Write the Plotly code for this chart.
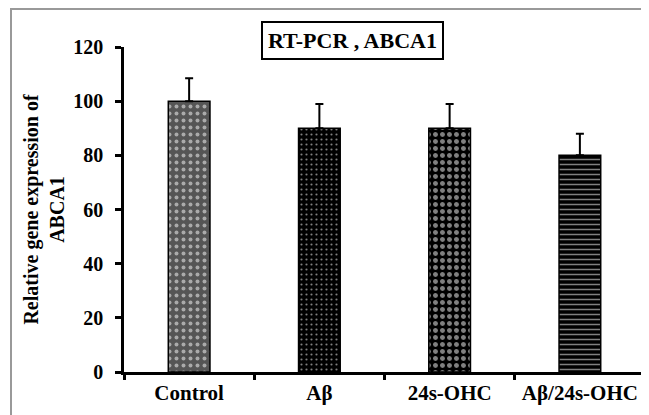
import plotly.graph_objects as go

categories = ["Control", "Aβ", "24s-OHC", "Aβ/24s-OHC"]
values = [100, 90, 90, 80]
errors = [8.5, 9, 9, 8]
y_ticks = [0, 20, 40, 60, 80, 100, 120]

patterns = [
    dict(shape=".", fgcolor="white", bgcolor="#555555", size=7, solidity=0.25),
    dict(shape=".", fgcolor="white", bgcolor="black", size=5, solidity=0.15),
    dict(shape=".", fgcolor="white", bgcolor="black", size=7, solidity=0.4),
    dict(shape="-", fgcolor="white", bgcolor="black", size=5, solidity=0.3),
]

# page body has an 8px default margin, so the figure is 8px smaller
W, H = 641, 407
L, R, T, B = 116, 4, 39, 43
pw = W - L - R
ph = H - T - B

fig = go.Figure()
for i, c in enumerate(categories):
    fig.add_trace(go.Bar(
        x=[c], y=[values[i]],
        marker=dict(color=patterns[i]["bgcolor"], pattern=patterns[i],
                    line=dict(color="black", width=1.5)),
        error_y=dict(type="data", symmetric=False, array=[errors[i]], arrayminus=[0],
                     color="black", thickness=2, width=4),
        showlegend=False,
    ))

font = "Liberation Serif, Times New Roman, serif"
fig.update_layout(
    width=W, height=H,
    margin=dict(l=L, r=R, t=T, b=B),
    paper_bgcolor="white", plot_bgcolor="white",
    bargap=0.68,
    font=dict(family=font, color="black", size=20),
    xaxis=dict(
        showline=True, linecolor="black", linewidth=2.5,
        ticks="outside", tickson="boundaries", ticklen=5, tickwidth=2.5, tickcolor="black",
        tickfont=dict(family=font, size=21, weight="bold"),
        range=[-0.5, 3.5],
    ),
    yaxis=dict(
        range=[0, 120], tickvals=y_ticks, showgrid=False, zeroline=False,
        showline=True, linecolor="black", linewidth=2.5,
        ticks="outside", ticklen=6, tickwidth=2.5, tickcolor="black",
        ticklabelstandoff=8,
        tickfont=dict(family=font, size=20, weight="bold"),
        title=dict(text="Relative gene expression of<br>ABCA1",
                   font=dict(family=font, size=20, weight="bold"), standoff=4),
    ),
    annotations=[dict(
        text="<b>RT-PCR , ABCA1</b>", xref="paper", yref="paper",
        x=(344.5 - L) / pw, y=(H - B - 32) / ph, xanchor="center", yanchor="middle",
        showarrow=False, font=dict(family=font, size=22, color="black"),
        bordercolor="black", borderwidth=2, borderpad=5, bgcolor="white",
    )],
    shapes=[dict(
        type="rect", xref="paper", yref="paper",
        x0=(3 - L) / pw, x1=2, y0=-1, y1=(H - B - 1) / ph,
        line=dict(color="#999999", width=2), fillcolor="rgba(0,0,0,0)", layer="below",
    )],
)

fig.write_html("out.html")
